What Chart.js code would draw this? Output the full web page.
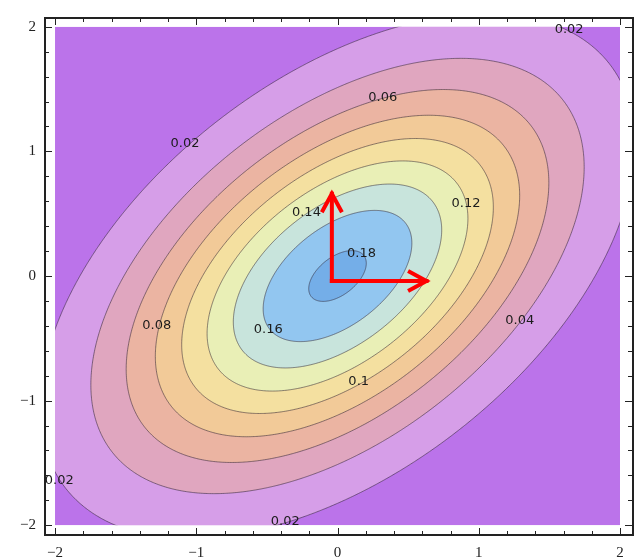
<!DOCTYPE html>
<html lang="en">
<head>
<meta charset="UTF-8">
<title>Contour plot</title>
<script src="https://cdn.jsdelivr.net/npm/chart.js@4"></script>
<style>
    html, body { margin: 0; padding: 0; background: #fff; }
    #wrap { width: 635px; height: 560px; }
</style>
</head>
<body>
<div id="wrap"><canvas id="contourChart" width="635" height="560"></canvas></div>
<script>
    // bivariate normal: centred, unit variances, correlation 0.5
    const meanX = 0, meanY = 0;
    const sigmaX = 1, sigmaY = 1;
    const rho = 0.5;

    // contour levels, and the colour of the band just above each one
    const levels = [0.02, 0.04, 0.06, 0.08, 0.10, 0.12, 0.14, 0.16, 0.18];
    const outerColor = '#bb73ea';
    const bandColors = ['#d69ee8', '#e0a6bf', '#ebb4a2', '#f2ca98', '#f4e0a0', '#e9efb6', '#c8e4dc', '#92c6f0', '#74aee8'];

    // labels sitting on the contours (data coordinates)
    const labelText = ['0.02', '0.06', '0.02', '0.14', '0.12', '0.18', '0.08', '0.16', '0.04', '0.1', '0.02', '0.02'];
    const labelX = [1.64, 0.32, -1.08, -0.22, 0.91, 0.17, -1.28, -0.49, 1.29, 0.15, -1.97, -0.37];
    const labelY = [1.98, 1.43, 1.06, 0.51, 0.58, 0.18, -0.40, -0.43, -0.36, -0.85, -1.64, -1.97];

    // the two red arrows
    const arrowFrom = [[-0.04, -0.04], [-0.04, -0.04]];
    const arrowTo = [[-0.04, 0.66], [0.63, -0.04]];

    const tickValues = [-2, -1, 0, 1, 2];
    const plotMin = -2, plotMax = 2;

    // closed contour of the density at a given level
    function contour(level) {
        const norm = 1 / (2 * Math.PI * sigmaX * sigmaY * Math.sqrt(1 - rho * rho));
        const r = Math.sqrt(-2 * Math.log(level / norm));
        const pts = [];
        const n = 240;
        for (let i = 0; i <= n; i++) {
            const t = 2 * Math.PI * i / n;
            pts.push({
                x: meanX + r * sigmaX * Math.cos(t),
                y: meanY + r * sigmaY * (rho * Math.cos(t) + Math.sqrt(1 - rho * rho) * Math.sin(t))
            });
        }
        return pts;
    }

    const datasets = [{
        label: 'below ' + levels[0],
        data: [{x: plotMin, y: plotMin}, {x: plotMax, y: plotMin}, {x: plotMax, y: plotMax}, {x: plotMin, y: plotMax}, {x: plotMin, y: plotMin}],
        showLine: true,
        fill: 'shape',
        backgroundColor: outerColor,
        borderWidth: 0,
        pointRadius: 0,
        order: levels.length + 1
    }];
    levels.forEach((lv, i) => {
        datasets.push({
            label: String(lv),
            data: contour(lv),
            showLine: true,
            tension: 0.0001, // non-zero so the line is not drawn with the min/max fast path
            fill: 'shape',
            backgroundColor: bandColors[i],
            borderColor: 'rgba(45, 35, 50, 0.55)',
            borderWidth: 1,
            pointRadius: 0,
            order: levels.length - i
        });
    });

    const overlayPlugin = {
        id: 'overlay',
        afterDatasetsDraw(chart) {
            const {ctx, chartArea: a, scales: {x, y}} = chart;
            const x0 = x.getPixelForValue(plotMin), x1 = x.getPixelForValue(plotMax);
            const y0 = y.getPixelForValue(plotMax), y1 = y.getPixelForValue(plotMin);
            ctx.save();

            // white gap between the frame and the plotted square
            ctx.fillStyle = '#fff';
            ctx.fillRect(a.left, a.top, x0 - a.left, a.bottom - a.top);
            ctx.fillRect(x1, a.top, a.right - x1, a.bottom - a.top);
            ctx.fillRect(a.left, a.top, a.right - a.left, y0 - a.top);
            ctx.fillRect(a.left, y1, a.right - a.left, a.bottom - y1);

            // contour labels
            ctx.font = '13px "DejaVu Sans"';
            ctx.fillStyle = '#1c1c1c';
            ctx.textAlign = 'center';
            ctx.textBaseline = 'middle';
            labelText.forEach((t, i) => {
                ctx.fillText(t, x.getPixelForValue(labelX[i]), y.getPixelForValue(labelY[i]));
            });

            // red arrows
            ctx.strokeStyle = '#ff0000';
            ctx.lineWidth = 4;
            ctx.lineJoin = 'miter';
            arrowFrom.forEach((p, i) => {
                const ax = x.getPixelForValue(p[0]), ay = y.getPixelForValue(p[1]);
                const bx = x.getPixelForValue(arrowTo[i][0]), by = y.getPixelForValue(arrowTo[i][1]);
                const ang = Math.atan2(by - ay, bx - ax);
                const head = 21, spread = 0.5;
                ctx.lineCap = 'square';
                ctx.beginPath();
                ctx.moveTo(ax, ay);
                ctx.lineTo(bx, by);
                ctx.stroke();
                ctx.lineCap = 'butt';
                ctx.beginPath();
                ctx.moveTo(bx - head * Math.cos(ang - spread), by - head * Math.sin(ang - spread));
                ctx.lineTo(bx, by);
                ctx.lineTo(bx - head * Math.cos(ang + spread), by - head * Math.sin(ang + spread));
                ctx.stroke();
            });

            // frame with inward ticks on all four sides
            ctx.strokeStyle = '#222';
            ctx.lineWidth = 2;
            ctx.lineCap = 'butt';
            ctx.strokeRect(a.left + 1, a.top + 1, a.right - a.left - 1, a.bottom - a.top - 2);
            ctx.lineWidth = 1;
            ctx.beginPath();
            for (let k = -10; k <= 10; k++) {
                const v = k / 5;
                const len = k % 5 === 0 ? 7 : 4;
                const px = Math.round(x.getPixelForValue(v)) + 0.5;
                const py = Math.round(y.getPixelForValue(v)) + 0.5;
                ctx.moveTo(px, a.bottom - 1); ctx.lineTo(px, a.bottom - 1 - len);
                ctx.moveTo(px, a.top + 1); ctx.lineTo(px, a.top + 1 + len);
                ctx.moveTo(a.left + 1, py); ctx.lineTo(a.left + 1 + len, py);
                ctx.moveTo(a.right - 1, py); ctx.lineTo(a.right - 1 - len, py);
            }
            ctx.stroke();
            ctx.restore();
        }
    };

    const tickFont = {family: '"Liberation Serif", serif', size: 15};
    const fmt = v => (v < 0 ? '\u2212' + Math.abs(v) : String(v));

    new Chart(document.getElementById('contourChart').getContext('2d'), {
        type: 'scatter',
        data: {datasets: datasets},
        options: {
            responsive: false,
            animation: false,
            events: [],
            layout: {padding: {top: 5, right: 2, left: 0, bottom: 0}},
            plugins: {
                legend: {display: false},
                tooltip: {enabled: false}
            },
            scales: {
                x: {
                    type: 'linear',
                    min: -2.078,
                    max: 2.092,
                    afterBuildTicks: s => { s.ticks = tickValues.map(v => ({value: v})); },
                    afterFit: s => { s.height = 24; },
                    grid: {display: false, drawTicks: false},
                    border: {display: false},
                    ticks: {font: tickFont, color: '#222', padding: 8, maxRotation: 0, callback: fmt}
                },
                y: {
                    type: 'linear',
                    min: -2.086,
                    max: 2.078,
                    afterBuildTicks: s => { s.ticks = tickValues.map(v => ({value: v})); },
                    afterFit: s => { s.width = 44; },
                    grid: {display: false, drawTicks: false},
                    border: {display: false},
                    ticks: {font: tickFont, color: '#222', padding: 8, callback: fmt}
                }
            }
        },
        plugins: [overlayPlugin]
    });
</script>
</body>
</html>
